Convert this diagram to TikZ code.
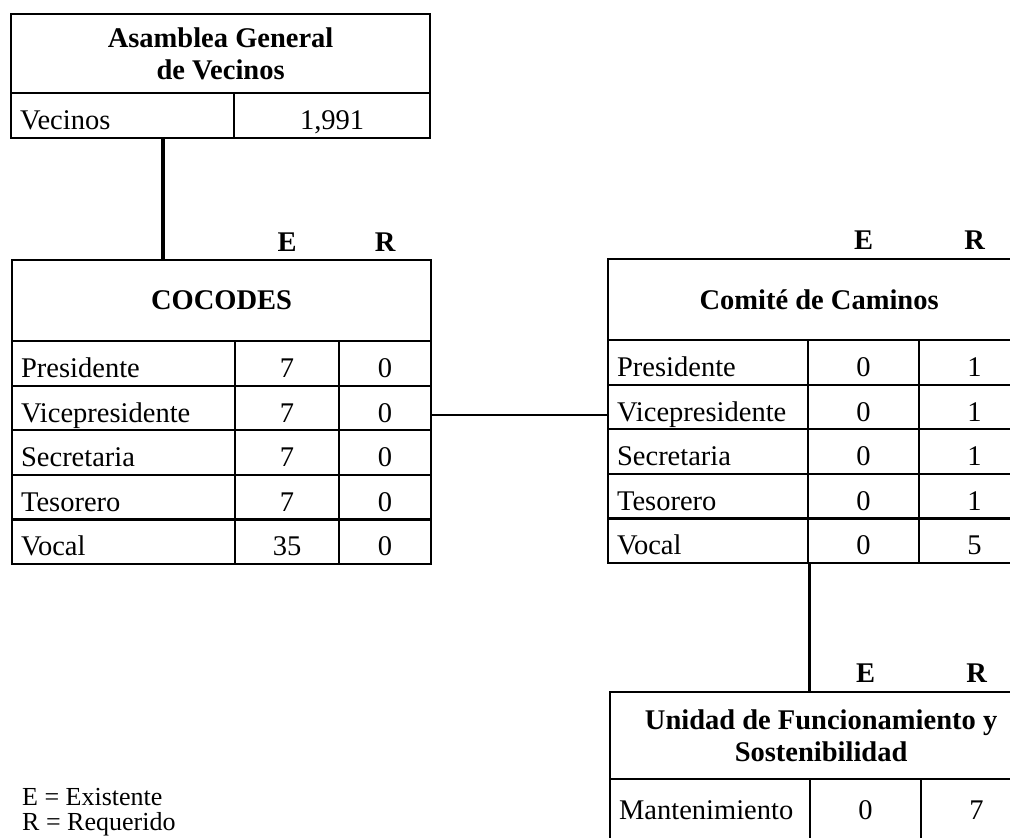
\documentclass[tikz,border=0pt]{standalone}
\usepackage{fontspec}
\setmainfont{Liberation Serif}
\usetikzlibrary{positioning}

\begin{document}
\begin{tikzpicture}[x=1pt, y=-1pt]
		\tikzstyle{cell} = [draw, line width=2.2pt, anchor=north west, inner sep=0pt, minimum height=44.6pt, font=\fontsize{28.5}{32}\selectfont, text height=28pt, text depth=0pt]
		\tikzstyle{role} = [cell, align=left, inner xsep=9pt]
		\tikzstyle{title} = [draw, line width=2.2pt, anchor=north west, inner sep=0pt, align=center, font=\fontsize{28.5}{32}\selectfont\bfseries]
		\tikzstyle{head} = [inner sep=0pt, anchor=base, font=\fontsize{28.5}{32}\selectfont\bfseries]
		\tikzstyle{trunk} = [line width=3.2pt]
		\tikzstyle{link} = [line width=1.6pt]
		\tikzstyle{legend} = [inner sep=0pt, anchor=base west, font=\fontsize{26}{28}\selectfont]

		\useasboundingbox (0,0) rectangle (1010,838);

		% Asamblea
		\node[title, minimum width=419pt, minimum height=79pt] (asamTitle) at (10,13) {Asamblea General\\de Vecinos};
		\node[role, text width=205pt] (asamVec) at (10,92) {Vecinos};
		\node[cell, minimum width=196pt] (asamNum) at (233,92) {1,991};
		\coordinate (asamFoot) at (163,137);

		% COCODES
		\node[title, minimum width=419pt, minimum height=81pt] (cocTitle) at (11,259) {COCODES};
		\foreach \role/\ex/\req [count=\i] in {Presidente/7/0, Vicepresidente/7/0, Secretaria/7/0, Tesorero/7/0, Vocal/35/0}{
			\pgfmathsetmacro{\rowY}{340 + 44.6*(\i-1)}
			\node[role, text width=205pt] (cocRole\i) at (11,\rowY) {\role};
			\node[cell, minimum width=104pt] (cocE\i) at (234,\rowY) {\ex};
			\node[cell, minimum width=92pt] (cocR\i) at (338,\rowY) {\req};
		}
		\node[head, above=7.5pt] at (cocE1 |- cocTitle.north) {E};
		\node[head, above=7.5pt] at (cocR1 |- cocTitle.north) {R};

		% Comite de Caminos
		\node[title, minimum width=422pt, minimum height=81pt] (comTitle) at (607,258) {Comité de Caminos};
		\foreach \role/\ex/\req [count=\i] in {Presidente/0/1, Vicepresidente/0/1, Secretaria/0/1, Tesorero/0/1, Vocal/0/5}{
			\pgfmathsetmacro{\rowY}{339 + 44.6*(\i-1)}
			\node[role, text width=182pt] (comRole\i) at (607,\rowY) {\role};
			\node[cell, minimum width=111pt] (comE\i) at (807,\rowY) {\ex};
			\node[cell, minimum width=111pt] (comR\i) at (918,\rowY) {\req};
		}
		\node[head, above=8pt] at (comE1 |- comTitle.north) {E};
		\node[head, above=8pt] at (comR1 |- comTitle.north) {R};

		% Unidad de Funcionamiento
		\node[title, minimum width=422pt, minimum height=87pt] (uniTitle) at (609,691) {Unidad de Funcionamiento y\\Sostenibilidad};
		\node[role, text width=182pt, minimum height=80pt, text height=12pt, text depth=12pt] (uniRole1) at (609,778) {Mantenimiento};
		\node[cell, minimum width=111pt, minimum height=80pt, text height=12pt, text depth=12pt] (uniE1) at (809,778) {0};
		\node[cell, minimum width=111pt, minimum height=80pt, text height=12pt, text depth=12pt] (uniR1) at (920,778) {7};
		\node[head, above=8pt] at (uniE1 |- uniTitle.north) {E};
		\node[head, above=8pt] at (uniR1 |- uniTitle.north) {R};

		% Connectors
		\draw[trunk] (asamFoot) -- (asamFoot |- cocTitle.north);
		\draw[link] ([yshift=-7pt]cocR2.east) -- ([yshift=-7pt]cocR2.east -| comRole2.west);
		\draw[trunk] (comRole5.south east) -- (comRole5.south east |- uniTitle.north);

		% Legend
		\node[legend] (legE) at (22,805) {E = Existente};
		\node[legend] (legR) at (22,830) {R = Requerido};
	\end{tikzpicture}
\end{document}
